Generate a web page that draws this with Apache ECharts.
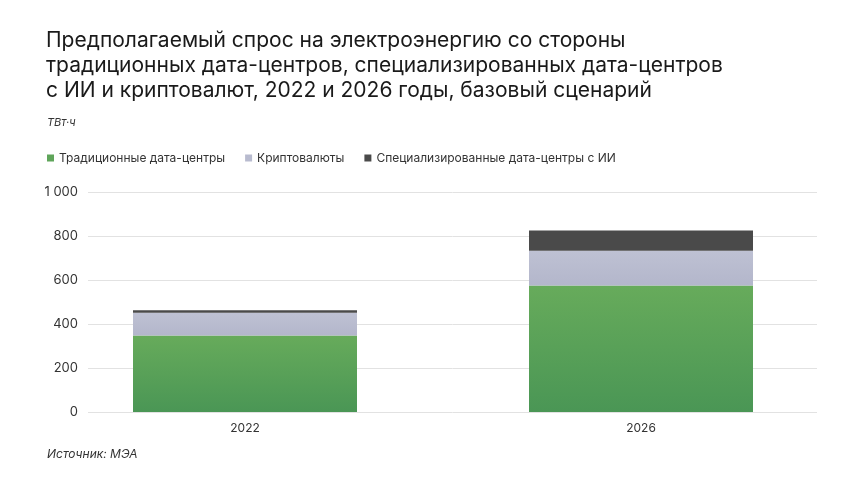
<!DOCTYPE html>
<html>
<head>
<meta charset="utf-8">
<script src="https://cdn.jsdelivr.net/npm/echarts@6/dist/echarts.min.js"></script>
<style>
  html, body { margin: 0; padding: 0; background: #fff; }
  #chart { width: 860px; height: 484px; }
</style>
</head>
<body>
<div id="chart"></div>
<script>
const years = ['2022', '2026']
const traditional = [348, 575]
const crypto = [103, 158]
const aiCenters = [12, 92]
const yTicks = [0, 200, 400, 600, 800, 1000]

const seriesNames = ['Традиционные дата-центры', 'Криптовалюты', 'Специализированные дата-центры с ИИ']

const font = 'Inter, "Noto Sans", sans-serif'

const gradient = (top, bottom) => new echarts.graphic.LinearGradient(0, 0, 0, 1, [
  { offset: 0, color: top },
  { offset: 1, color: bottom },
])

const chart = echarts.init(document.getElementById('chart'), null, { renderer: 'canvas' })

// 1000 -> "1 000"
const fmt = (v) => String(v).replace(/\B(?=(\d{3})+(?!\d))/g, ' ')

const option = {
  backgroundColor: '#fff',
  animation: false,
  title: {
    text: 'Предполагаемый спрос на электроэнергию со стороны\nтрадиционных дата-центров, специализированных дата-центров\nс ИИ и криптовалют, 2022 и 2026 годы, базовый сценарий',
    left: 41,
    top: 23,
    textStyle: { fontFamily: font, fontSize: 21, fontWeight: 'normal', color: '#1a1a1a', lineHeight: 25 },
  },
  legend: {
    left: 42,
    top: 147,
    itemWidth: 7,
    itemHeight: 7,
    itemGap: 20,
    icon: 'rect',
    textStyle: { fontFamily: font, fontSize: 12, color: '#333' },
    data: [
      { name: seriesNames[0], itemStyle: { color: '#5fa55a' } },
      { name: seriesNames[1], itemStyle: { color: '#b8bbcf' } },
      { name: seriesNames[2], itemStyle: { color: '#4a4a4a' } },
    ],
  },
  graphic: [
    { type: 'text', left: 47, top: 117, style: { text: 'ТВт·ч', font: 'italic 11px ' + font, fill: '#333' } },
    { type: 'text', left: 47, top: 448, style: { text: 'Источник: МЭА', font: 'italic 12px ' + font, fill: '#333' } },
  ],
  grid: [
    { left: 88, right: 43, top: 192, bottom: 72 },
    { left: 47, right: 21, top: 192, bottom: 72 },
  ],
  xAxis: [
    { gridIndex: 0, type: 'category', data: years, show: false },
    {
      gridIndex: 1,
      type: 'category',
      data: years,
      axisLine: { show: false },
      axisTick: { show: false },
      axisLabel: { fontFamily: font, fontSize: 12, color: '#333', margin: 10 },
    },
  ],
  yAxis: [
    {
      gridIndex: 0,
      type: 'value',
      min: yTicks[0],
      max: yTicks[yTicks.length - 1],
      interval: 200,
      axisLine: { show: false },
      axisTick: { show: false },
      axisLabel: { fontFamily: font, fontSize: 13, color: '#333', margin: 10, formatter: fmt },
      splitLine: { lineStyle: { color: '#e2e2e2', width: 1 } },
    },
    {
      gridIndex: 1,
      type: 'value',
      min: yTicks[0],
      max: yTicks[yTicks.length - 1],
      show: false,
      splitLine: { show: false },
    },
  ],
  series: [
    {
      name: seriesNames[0],
      type: 'bar',
      stack: 'total',
      xAxisIndex: 1,
      yAxisIndex: 1,
      barWidth: 224,
      data: traditional,
      itemStyle: { color: gradient('#67ab5b', '#4a9655') },
    },
    {
      name: seriesNames[1],
      type: 'bar',
      stack: 'total',
      xAxisIndex: 1,
      yAxisIndex: 1,
      barWidth: 224,
      data: crypto,
      itemStyle: { color: gradient('#bec1d3', '#b3b6cb') },
    },
    {
      name: seriesNames[2],
      type: 'bar',
      stack: 'total',
      xAxisIndex: 1,
      yAxisIndex: 1,
      barWidth: 224,
      data: aiCenters,
      itemStyle: { color: '#4a4a4a' },
    },
  ],
}

chart.setOption(option)
</script>
</body>
</html>
